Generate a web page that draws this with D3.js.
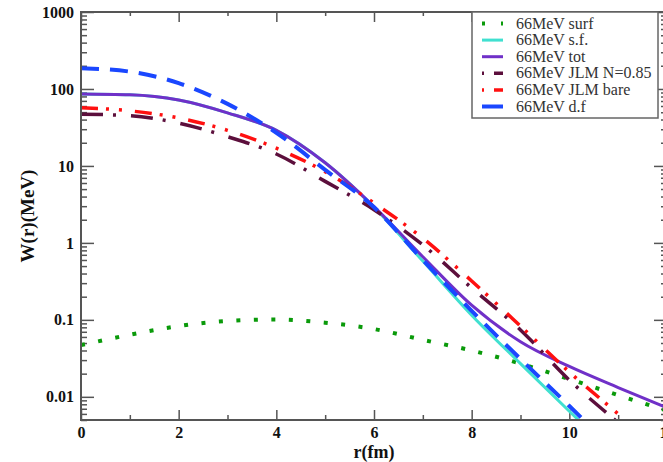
<!DOCTYPE html>
<html>
<head>
<meta charset="utf-8">
<script src="https://cdn.jsdelivr.net/npm/d3@7"></script>
<style>
body { margin: 0; background: #fff; }
text { font-family: "Liberation Serif", "DejaVu Serif", serif; }
</style>
</head>
<body>
<svg id="chart" width="663" height="462"></svg>
<script>
// radius in fm
var radius = [0, 1, 2, 3, 4, 5, 6, 7, 8, 9, 10, 11, 12];

// W(r) in MeV
var surf     = [0.047, 0.064, 0.083, 0.097, 0.101, 0.092, 0.076, 0.055, 0.040, 0.027, 0.017, 0.0105, 0.0066];
var sf       = [86, 84, 72, 49, 29, 11, 2.9, 0.58, 0.115, 0.027, 0.0065, 0.0016];
var tot      = [86, 84, 72, 49, 29, 11, 2.96, 0.66, 0.155, 0.052, 0.0248, 0.0132, 0.0072];
var jlmN085  = [47, 45, 36, 24, 14.3, 6.3, 2.7, 0.94, 0.26, 0.074, 0.0165, 0.0046, 0.0013];
var jlmBare  = [57, 52, 42, 29, 17, 8.4, 3.3, 1.15, 0.32, 0.083, 0.021, 0.006, 0.0017];
var df       = [186, 168, 119, 64, 27, 8.9, 2.9, 0.60, 0.131, 0.031, 0.0076, 0.0018];

var seriesNames = ["66MeV surf", "66MeV s.f.", "66MeV tot", "66MeV JLM N=0.85", "66MeV JLM bare", "66MeV d.f"];
var xTicks = [0, 2, 4, 6, 8, 10, 12];
var yTicks = [0.01, 0.1, 1, 10, 100, 1000];
var yTickLabels = ["0.01", "0.1", "1", "10", "100", "1000"];

var series = [
    { name: seriesNames[0], values: surf,    color: "#0a9a0a", width: 4,   dash: "4,13.5",            legendDash: "3,16,3" },
    { name: seriesNames[1], values: sf,      color: "#40e0d0", width: 3,   dash: null,                legendDash: null },
    { name: seriesNames[2], values: tot,     color: "#7030c8", width: 3,   dash: null,                legendDash: null },
    { name: seriesNames[3], values: jlmN085, color: "#5c0f3c", width: 3.5, dash: "22,10,3,15",        legendDash: "2,10,9" },
    { name: seriesNames[4], values: jlmBare, color: "#ff1010", width: 3.5, dash: "17,8,3,10,3,13",    legendDash: "2,10,9" },
    { name: seriesNames[5], values: df,      color: "#1a47ff", width: 4,   dash: "18,11",             legendDash: null }
];

var plotLeft = 81, plotRight = 667, plotTop = 12, plotBottom = 420;

var x = d3.scaleLinear().domain([0, 12]).range([plotLeft, plotRight]);
var y = d3.scaleLog().domain([0.005, 1000]).range([plotBottom, plotTop]);

var svg = d3.select("#chart");

svg.append("defs").append("clipPath").attr("id", "plotClip")
    .append("rect")
    .attr("x", plotLeft).attr("y", plotTop)
    .attr("width", plotRight - plotLeft).attr("height", plotBottom - plotTop);

// minor log ticks
var yMinor = [];
[0.001, 0.01, 0.1, 1, 10, 100].forEach(function(d) {
    for (var k = 2; k <= 9; k++) {
        var v = d * k;
        if (v >= 0.005 && v <= 1000) yMinor.push(v);
    }
});
var xMinor = [1, 3, 5, 7, 9, 11];

var axisColor = "#555";

function styleAxis(g) {
    g.select(".domain").remove();
    g.selectAll("line").attr("stroke", axisColor).attr("stroke-width", 1.5);
    g.selectAll("text")
        .attr("fill", "#111")
        .style("font-family", "'Liberation Serif', serif")
        .style("font-size", "16px")
        .style("font-weight", "bold");
}

// left
svg.append("g").attr("transform", "translate(" + plotLeft + ",0)")
    .call(d3.axisLeft(y).tickValues(yTicks).tickSize(-13).tickPadding(7)
        .tickFormat(function(d, i) { return yTickLabels[i]; }))
    .call(styleAxis);
svg.append("g").attr("transform", "translate(" + plotLeft + ",0)")
    .call(d3.axisLeft(y).tickValues(yMinor).tickSize(-6).tickFormat(""))
    .call(styleAxis);

// right
svg.append("g").attr("transform", "translate(" + plotRight + ",0)")
    .call(d3.axisRight(y).tickValues(yTicks).tickSize(-13).tickFormat(""))
    .call(styleAxis);
svg.append("g").attr("transform", "translate(" + plotRight + ",0)")
    .call(d3.axisRight(y).tickValues(yMinor).tickSize(-6).tickFormat(""))
    .call(styleAxis);

// bottom
svg.append("g").attr("transform", "translate(0," + plotBottom + ")")
    .call(d3.axisBottom(x).tickValues(xTicks).tickSize(-10).tickPadding(7).tickFormat(d3.format("d")))
    .call(styleAxis);
svg.append("g").attr("transform", "translate(0," + plotBottom + ")")
    .call(d3.axisBottom(x).tickValues(xMinor).tickSize(-5).tickFormat(""))
    .call(styleAxis);

// top
svg.append("g").attr("transform", "translate(0," + plotTop + ")")
    .call(d3.axisTop(x).tickValues(xTicks).tickSize(-10).tickFormat(""))
    .call(styleAxis);
svg.append("g").attr("transform", "translate(0," + plotTop + ")")
    .call(d3.axisTop(x).tickValues(xMinor).tickSize(-4).tickFormat(""))
    .call(styleAxis);

// curves
var line = d3.line()
    .x(function(d) { return x(d[0]); })
    .y(function(d) { return y(d[1]); })
    .curve(d3.curveMonotoneX);

var curves = svg.append("g").attr("clip-path", "url(#plotClip)");
series.forEach(function(s) {
    var pts = s.values.map(function(v, i) { return [radius[i], v]; });
    curves.append("path")
        .attr("d", line(pts))
        .attr("fill", "none")
        .attr("stroke", s.color)
        .attr("stroke-width", s.width)
        .attr("stroke-dasharray", s.dash);
});

// frame
svg.append("rect")
    .attr("x", plotLeft).attr("y", plotTop)
    .attr("width", plotRight - plotLeft).attr("height", plotBottom - plotTop)
    .attr("fill", "none")
    .attr("stroke", axisColor)
    .attr("stroke-width", 2);

// legend
var legend = svg.append("g");
legend.append("rect")
    .attr("x", 472).attr("y", plotTop)
    .attr("width", 186).attr("height", 106)
    .attr("fill", "#fff")
    .attr("stroke", "#666")
    .attr("stroke-width", 1.5);

series.forEach(function(s, i) {
    var ly = 23.5 + i * 16.6;
    legend.append("line")
        .attr("x1", 482).attr("x2", 503)
        .attr("y1", ly).attr("y2", ly)
        .attr("stroke", s.color)
        .attr("stroke-width", s.width)
        .attr("stroke-dasharray", s.legendDash);
    legend.append("text")
        .attr("x", 516).attr("y", ly + 5)
        .attr("fill", "#333")
        .style("font-size", "16px")
        .text(s.name);
});

// axis titles
svg.append("text")
    .attr("x", (plotLeft + plotRight) / 2).attr("y", 458)
    .attr("text-anchor", "middle")
    .style("font-size", "18px").style("font-weight", "bold")
    .attr("fill", "#111")
    .text("r(fm)");

svg.append("text")
    .attr("transform", "translate(34," + (plotTop + plotBottom) / 2 + ") rotate(-90)")
    .attr("text-anchor", "middle")
    .style("font-size", "19px").style("font-weight", "bold")
    .attr("fill", "#111")
    .text("W(r)(MeV)");
</script>
</body>
</html>
